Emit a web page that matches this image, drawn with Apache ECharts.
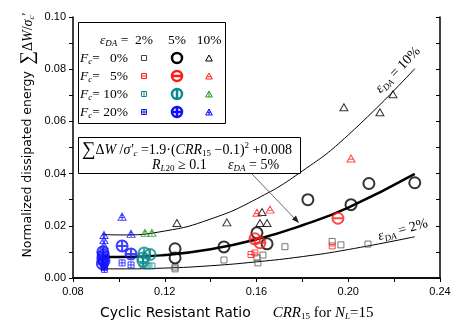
<!DOCTYPE html>
<html>
<head>
<meta charset="utf-8">
<script src="https://cdn.jsdelivr.net/npm/echarts@6/dist/echarts.min.js"></script>
<style>
  html, body { margin: 0; padding: 0; background: #fff; }
  #chart { width: 471px; height: 330px; }
</style>
</head>
<body>
<div id="chart"></div>
<script>
// axis ticks
const xTicks = [0.08, 0.12, 0.16, 0.20, 0.24]
const yTicks = [0.00, 0.02, 0.04, 0.06, 0.08, 0.10]

// fitted curves
const curveX10 = [0.093, 0.10, 0.12, 0.14, 0.16, 0.18, 0.20, 0.229]
const curveY10 = [0.0167, 0.0165, 0.0180, 0.0226, 0.0303, 0.0410, 0.0548, 0.0802]
const curveX5 = [0.093, 0.10, 0.12, 0.14, 0.16, 0.18, 0.20, 0.229]
const curveY5 = [0.0081, 0.0080, 0.0088, 0.0110, 0.0148, 0.0202, 0.0270, 0.0399]
const curveX2 = [0.093, 0.10, 0.12, 0.14, 0.16, 0.18, 0.20, 0.229]
const curveY2 = [0.0035, 0.0035, 0.0038, 0.0047, 0.0062, 0.0082, 0.0109, 0.0158]

// measured points  [CRR15, energy]
const fc0da2 = [[0.1245, 0.0035], [0.1245, 0.0042], [0.1458, 0.0069], [0.1602, 0.0077], [0.1606, 0.0058],
  [0.1628, 0.0088], [0.1724, 0.0120], [0.1930, 0.0140], [0.1968, 0.0127], [0.2086, 0.0130]]
const fc0da5 = [[0.1245, 0.0112], [0.1245, 0.0077], [0.1458, 0.0119], [0.1602, 0.0173], [0.1646, 0.0131],
  [0.1824, 0.0300], [0.2012, 0.0281], [0.2090, 0.0362], [0.2290, 0.0365]]
const fc0da10 = [[0.1253, 0.0211], [0.1471, 0.0213], [0.1615, 0.0211], [0.1646, 0.0211], [0.1624, 0.0253],
  [0.1981, 0.0654], [0.2138, 0.0635], [0.2195, 0.0704]]
const fc5da2 = [[0.1576, 0.0090], [0.1593, 0.0096], [0.1930, 0.0123]]
const fc5da5 = [[0.1593, 0.0150], [0.1615, 0.0135], [0.1955, 0.0229]]
const fc5da10 = [[0.1602, 0.0250], [0.1659, 0.0262], [0.2012, 0.0458]]
const fc10da2 = [[0.1123, 0.0046], [0.1144, 0.0046], [0.1105, 0.0052]]
const fc10da5 = [[0.1110, 0.0096], [0.1105, 0.0077], [0.1136, 0.0090], [0.1105, 0.0065]]
const fc10da10 = [[0.1114, 0.0173], [0.1144, 0.0173]]
const fc20da2 = [[0.1014, 0.0058], [0.1053, 0.0050], [0.0935, 0.0040], [0.0937, 0.0033], [0.0935, 0.0048]]
const fc20da5 = [[0.1014, 0.0123], [0.1053, 0.0092], [0.0930, 0.0100], [0.0932, 0.0088], [0.0930, 0.0075],
  [0.0935, 0.0065], [0.0928, 0.0055]]
const fc20da10 = [[0.0935, 0.0165], [0.1014, 0.0235], [0.1053, 0.0169], [0.0935, 0.0145], [0.0935, 0.0125]]

// legend labels
const fcLabels = ['0%', '5%', '10%', '20%']
const daLabels = ['2%', '5%', '10%']

// symbol outlines
const CIRC = 'M10,5A5,5,0,1,1,0,5A5,5,0,1,1,10,5Z'
const SQ = 'M0,0L10,0L10,10L0,10Z'
const TRI = 'M5,0L10,9L0,9Z'
const H = 'M0,5L10,5'
const V = 'M5,0L5,10'
const TH = 'M2.3,5.5L7.7,5.5'
const TV = 'M5,0L5,9'

const BLACK = '#000', RED = '#ff1a1a', TEAL = '#0a8a8a', GREEN = '#1e9a1e', BLUE = '#1010ff'

// legend key styles: one row per Fc, one column per eps_DA
const keyRows = [
  [[SQ, '#444'], [CIRC, BLACK], [TRI, BLACK]],
  [[SQ + H, RED], [CIRC + H, RED], [TRI + TH, RED]],
  [[SQ + V, TEAL], [CIRC + V, TEAL], [TRI + TV, GREEN]],
  [[SQ + H + V, BLUE], [CIRC + H + V, BLUE], [TRI + TH + TV, BLUE]],
]

const serif = 'Liberation Serif'
const sans = 'Liberation Sans'

function zip(xs, ys) {
  return xs.map((x, i) => [x, ys[i]])
}

function pts(name, data, d, color, size, width, z) {
  return {
    name: name,
    type: 'scatter',
    data: data,
    symbol: 'path://' + d,
    symbolSize: size,
    silent: true,
    z: z || 3,
    itemStyle: { color: 'rgba(0,0,0,0)', borderColor: color, borderWidth: width },
  }
}

function curve(xs, ys, w) {
  return {
    type: 'line',
    data: zip(xs, ys),
    smooth: true,
    showSymbol: false,
    silent: true,
    z: 2,
    lineStyle: { color: '#000', width: w },
  }
}

function txt(x, y, text, align, rot) {
  return {
    type: 'text',
    x: x, y: y,
    rotation: rot || 0,
    z: 20,
    style: {
      text: text, rich: mathRich,
      align: align || 'left', textAlign: align || 'left',
      verticalAlign: 'middle', textVerticalAlign: 'middle',
      fill: '#000',
    },
  }
}

const mathRich = {
  t: { fontFamily: serif, fontSize: 14, color: '#000' },
  i: { fontFamily: serif, fontSize: 14, fontStyle: 'italic', color: '#000' },
  lt: { fontFamily: serif, fontSize: 13.5, color: '#000' },
  li: { fontFamily: serif, fontSize: 13.5, fontStyle: 'italic', color: '#000' },
  big: { fontFamily: serif, fontSize: 19, color: '#000' },
  sub: { fontFamily: serif, fontSize: 9, fontStyle: 'italic', color: '#000', padding: [8, 0, 0, 0] },
  subn: { fontFamily: serif, fontSize: 9, color: '#000', padding: [8, 0, 0, 0] },
  sup: { fontFamily: serif, fontSize: 9, color: '#000', padding: [0, 0, 9, 0] },
  s: { fontFamily: 'DejaVu Sans', fontSize: 12.5, color: '#000' },
  xs: { fontFamily: 'DejaVu Sans', fontSize: 14, color: '#000' },
  xi: { fontFamily: serif, fontSize: 15, fontStyle: 'italic', color: '#000' },
  xt: { fontFamily: serif, fontSize: 15, color: '#000' },
  gap: { width: 22 },
}

const chart = echarts.init(document.getElementById('chart'))

const rowY = [58, 76, 94, 112]
const colX = [144, 177, 209]
const keySize = [[5, 5, 1], [10, 10, 2.5], [7, 6, 1]]

const graphics = [
  // legend box
  { type: 'rect', shape: { x: 78.5, y: 22.5, width: 147, height: 101 }, style: { fill: '#fff', stroke: '#000', lineWidth: 1 }, z: 10 },
  txt(100, 40, '{li|ε}{sub|DA}{lt| =}'),
  ...daLabels.map((l, j) => txt(colX[j], 40, '{lt|' + l + '}', 'center')),
  ...fcLabels.map((l, i) => txt(80, rowY[i], '{li|F}{sub|c}{lt|=}')),
  ...fcLabels.map((l, i) => txt(128, rowY[i], '{lt|' + l + '}', 'right')),
  // equation box
  { type: 'rect', shape: { x: 78.5, y: 137.5, width: 222, height: 36 }, style: { fill: '#fff', stroke: '#000', lineWidth: 1 }, z: 10 },
  txt(82, 150, '{big|∑}{t|Δ}{i|W} {t|/}{i|σ′}{sub|c}{t| =1.9·(}{i|CRR}{subn|15}{t| −0.1)}{sup|2}{t| +0.008}'),
  txt(152, 165, '{i|R}{sub|L}{subn|20}{t| ≥ 0.1}'),
  txt(228, 165, '{i|ε}{sub|DA}{t| = 5%}'),
  // arrow from the box to the 5% curve
  { type: 'line', shape: { x1: 252, y1: 174, x2: 297, y2: 221 }, style: { stroke: '#444', lineWidth: 0.8 }, z: 10 },
  { type: 'polygon', shape: { points: [[299, 223], [292, 219.5], [296, 215.5]] }, style: { fill: '#222' }, z: 10 },
  // curve labels
  txt(398, 70, '{i|ε}{sub|DA}{t| = 10%}', 'center', 0.8),
  txt(403, 230, '{i|ε}{sub|DA}{t| = 2%}', 'center', 0.27),
  // axis titles
  txt(28, 135, '{s|Normalized dissipated energy}  {big|∑}{t|Δ}{i|W}{t|/}{i|σ}{sub|c}{t|′}', 'center', Math.PI / 2),
  txt(100, 313, '{xs|Cyclic Resistant Ratio}{gap|}{xi|CRR}{subn|15}{xt| for }{xi|N}{sub|L}{xt|=15}'),
]

// legend keys as a custom series in pixel space
const legendKeys = []
keyRows.forEach((row, i) => row.forEach((k, j) => legendKeys.push([i, j])))

chart.setOption({
  animation: false,
  grid: { left: 73, right: 31, top: 17, bottom: 52 },
  xAxis: [
    {
      type: 'value', min: xTicks[0], max: xTicks[xTicks.length - 1], interval: 0.04,
      axisLine: { lineStyle: { color: '#000', width: 1.5 } },
      axisTick: { show: true, length: 4, lineStyle: { color: '#000' } },
      minorTick: { show: true, splitNumber: 2, length: 4, lineStyle: { color: '#000' } },
      splitLine: { show: false },
      axisLabel: { color: '#000', fontFamily: sans, fontSize: 11, margin: 8, formatter: v => v.toFixed(2) },
    },
    {
      type: 'value', position: 'top', min: xTicks[0], max: xTicks[xTicks.length - 1], interval: 0.04,
      axisLine: { show: true, lineStyle: { color: '#000', width: 1.5 } },
      axisTick: { show: true, inside: true, length: 4, lineStyle: { color: '#000' } },
      minorTick: { show: true, splitNumber: 2, length: 4, lineStyle: { color: '#000' } },
      splitLine: { show: false },
      axisLabel: { show: false },
    },
  ],
  yAxis: [
    {
      type: 'value', min: yTicks[0], max: yTicks[yTicks.length - 1], interval: 0.02,
      axisLine: { show: true, lineStyle: { color: '#000', width: 1.5 } },
      axisTick: { show: true, length: 4, lineStyle: { color: '#000' } },
      minorTick: { show: true, splitNumber: 2, length: 4, lineStyle: { color: '#000' } },
      splitLine: { show: false },
      axisLabel: { color: '#000', fontFamily: sans, fontSize: 11, margin: 7, formatter: v => v.toFixed(2) },
    },
    {
      type: 'value', position: 'right', min: yTicks[0], max: yTicks[yTicks.length - 1], interval: 0.02,
      axisLine: { show: true, lineStyle: { color: '#000', width: 1.5 } },
      axisTick: { show: true, inside: true, length: 4, lineStyle: { color: '#000' } },
      minorTick: { show: true, splitNumber: 2, length: 4, lineStyle: { color: '#000' } },
      splitLine: { show: false },
      axisLabel: { show: false },
    },
  ],
  series: [
    curve(curveX10, curveY10, 1),
    curve(curveX5, curveY5, 2.5),
    curve(curveX2, curveY2, 1),
    pts('Fc0 2%', fc0da2, SQ, '#555', [6, 6], 1),
    pts('Fc0 10%', fc0da10, TRI, BLACK, [8, 7], 1),
    pts('Fc0 5%', fc0da5, CIRC, BLACK, [11, 11], 2),
    pts('Fc5 2%', fc5da2, SQ + H, RED, [6, 6], 1, 4),
    pts('Fc5 10%', fc5da10, TRI + TH, RED, [8, 7], 1, 4),
    pts('Fc5 5%', fc5da5, CIRC + H, RED, [11, 11], 2, 4),
    pts('Fc10 2%', fc10da2, SQ + V, TEAL, [6, 6], 1, 4),
    pts('Fc10 10%', fc10da10, TRI + TV, GREEN, [8, 7], 1, 4),
    pts('Fc10 5%', fc10da5, CIRC + V, TEAL, [11, 11], 2, 4),
    pts('Fc20 2%', fc20da2, SQ + H + V, BLUE, [6, 6], 1, 5),
    pts('Fc20 10%', fc20da10, TRI + TH + TV, BLUE, [8, 7], 1, 5),
    pts('Fc20 5%', fc20da5, CIRC + H + V, BLUE, [11, 11], 2, 5),
    {
      type: 'custom',
      coordinateSystem: 'none',
      silent: true,
      z: 30,
      data: legendKeys,
      renderItem: function (params, api) {
        const i = api.value(0), j = api.value(1)
        const k = keyRows[i][j], s = keySize[j]
        return {
          type: 'path',
          shape: { pathData: k[0], x: colX[j] - s[0] / 2, y: rowY[i] - s[1] / 2, width: s[0], height: s[1] },
          style: { fill: 'none', stroke: k[1], lineWidth: s[2] },
        }
      },
    },
  ],
  graphic: graphics,
})
</script>
</body>
</html>
